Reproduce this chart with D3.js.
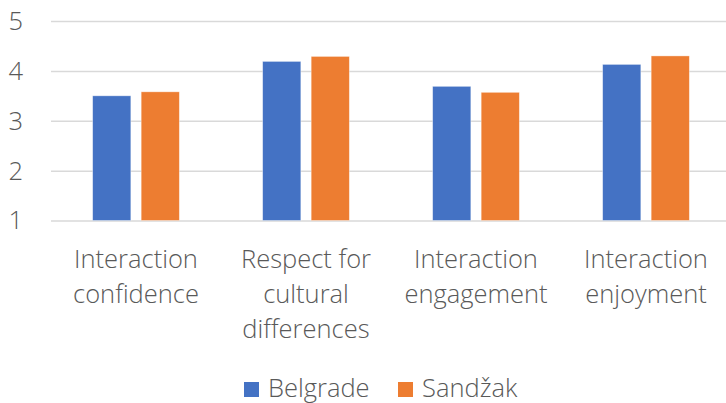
<html>
<head>
<script src="https://d3js.org/d3.v7.min.js"></script>
<style>
  body { margin: 0; background: #fff; }
  text { font-family: "Open Sans", "Segoe UI", sans-serif; font-weight: 300; fill: #595959; }
</style>
</head>
<body>
<svg id="chart" width="726" height="403"></svg>
<script>
// data
var categories = ["Interaction confidence", "Respect for cultural differences", "Interaction engagement", "Interaction enjoyment"];
var categoryLines = [["Interaction", "confidence"], ["Respect for", "cultural", "differences"], ["Interaction", "engagement"], ["Interaction", "enjoyment"]];
var series = ["Belgrade", "Sandžak"];
var belgrade = [3.50, 4.19, 3.69, 4.13];
var sandzak = [3.58, 4.29, 3.57, 4.30];
var yTicks = [1, 2, 3, 4, 5];
var colors = ["#4472C4", "#ED7D31"];

var svg = d3.select("#chart");

// plot area
var plotLeft = 51, plotRight = 731, plotTop = 21, plotBottom = 220.5;
var fontSize = "25.5px";

var x0 = d3.scaleBand()
  .domain(categories)
  .range([plotLeft, plotRight])
  .paddingInner(0.49)
  .paddingOuter(0.245);

var x1 = d3.scaleBand()
  .domain(series)
  .range([0, x0.bandwidth()])
  .paddingInner(0.213)
  .paddingOuter(0);

var y = d3.scaleLinear()
  .domain([1, 5])
  .range([plotBottom, plotTop]);

var color = d3.scaleOrdinal().domain(series).range(colors);

// gridlines
svg.append("g")
  .attr("transform", "translate(" + plotLeft + ",0)")
  .call(d3.axisLeft(y).tickValues(yTicks).tickSize(-(plotRight - plotLeft)).tickFormat(""))
  .call(function(g) { g.select(".domain").remove(); })
  .call(function(g) { g.selectAll("line").attr("stroke", "#d9d9d9").attr("stroke-width", 1.5); });

// y tick labels
svg.append("g")
  .selectAll("text")
  .data(yTicks)
  .enter()
  .append("text")
    .attr("x", 23)
    .attr("y", function(d) { return y(d); })
    .attr("dy", "0.35em")
    .attr("text-anchor", "end")
    .style("font-size", fontSize)
    .text(function(d) { return d; });

// bars
var rows = categories.map(function(c, i) {
  return { cat: c, values: [{ s: series[0], v: belgrade[i] }, { s: series[1], v: sandzak[i] }] };
});

svg.append("g")
  .selectAll("g")
  .data(rows)
  .enter()
  .append("g")
    .attr("transform", function(d) { return "translate(" + x0(d.cat) + ",0)"; })
  .selectAll("rect")
  .data(function(d) { return d.values; })
  .enter()
  .append("rect")
    .attr("x", function(d) { return x1(d.s); })
    .attr("y", function(d) { return y(d.v); })
    .attr("width", x1.bandwidth())
    .attr("height", function(d) { return y(1) - y(d.v); })
    .attr("fill", function(d) { return color(d.s); })
    .attr("stroke", "#fff")
    .attr("stroke-opacity", 0.5)
    .attr("stroke-width", 0.75);

// category labels
var labels = svg.append("g")
  .selectAll("text")
  .data(categories)
  .enter()
  .append("text")
    .attr("text-anchor", "middle")
    .style("font-size", fontSize);

labels.selectAll("tspan")
  .data(function(d, i) { return categoryLines[i].map(function(t) { return { t: t, cx: x0(d) + x0.bandwidth() / 2 }; }); })
  .enter()
  .append("tspan")
    .attr("x", function(d) { return d.cx; })
    .attr("y", function(d, j) { return 268 + j * 35; })
    .text(function(d) { return d.t; });

// legend
var legendData = [
  { s: series[0], x: 244 },
  { s: series[1], x: 398 }
];
var legend = svg.append("g")
  .selectAll("g")
  .data(legendData)
  .enter()
  .append("g")
    .attr("transform", function(d) { return "translate(" + d.x + ",382)"; });
legend.append("rect")
  .attr("width", 15)
  .attr("height", 15)
  .attr("fill", function(d) { return color(d.s); });
legend.append("text")
  .attr("x", 24)
  .attr("y", 15)
  .style("font-size", fontSize)
  .text(function(d) { return d.s; });
</script>
</body>
</html>
